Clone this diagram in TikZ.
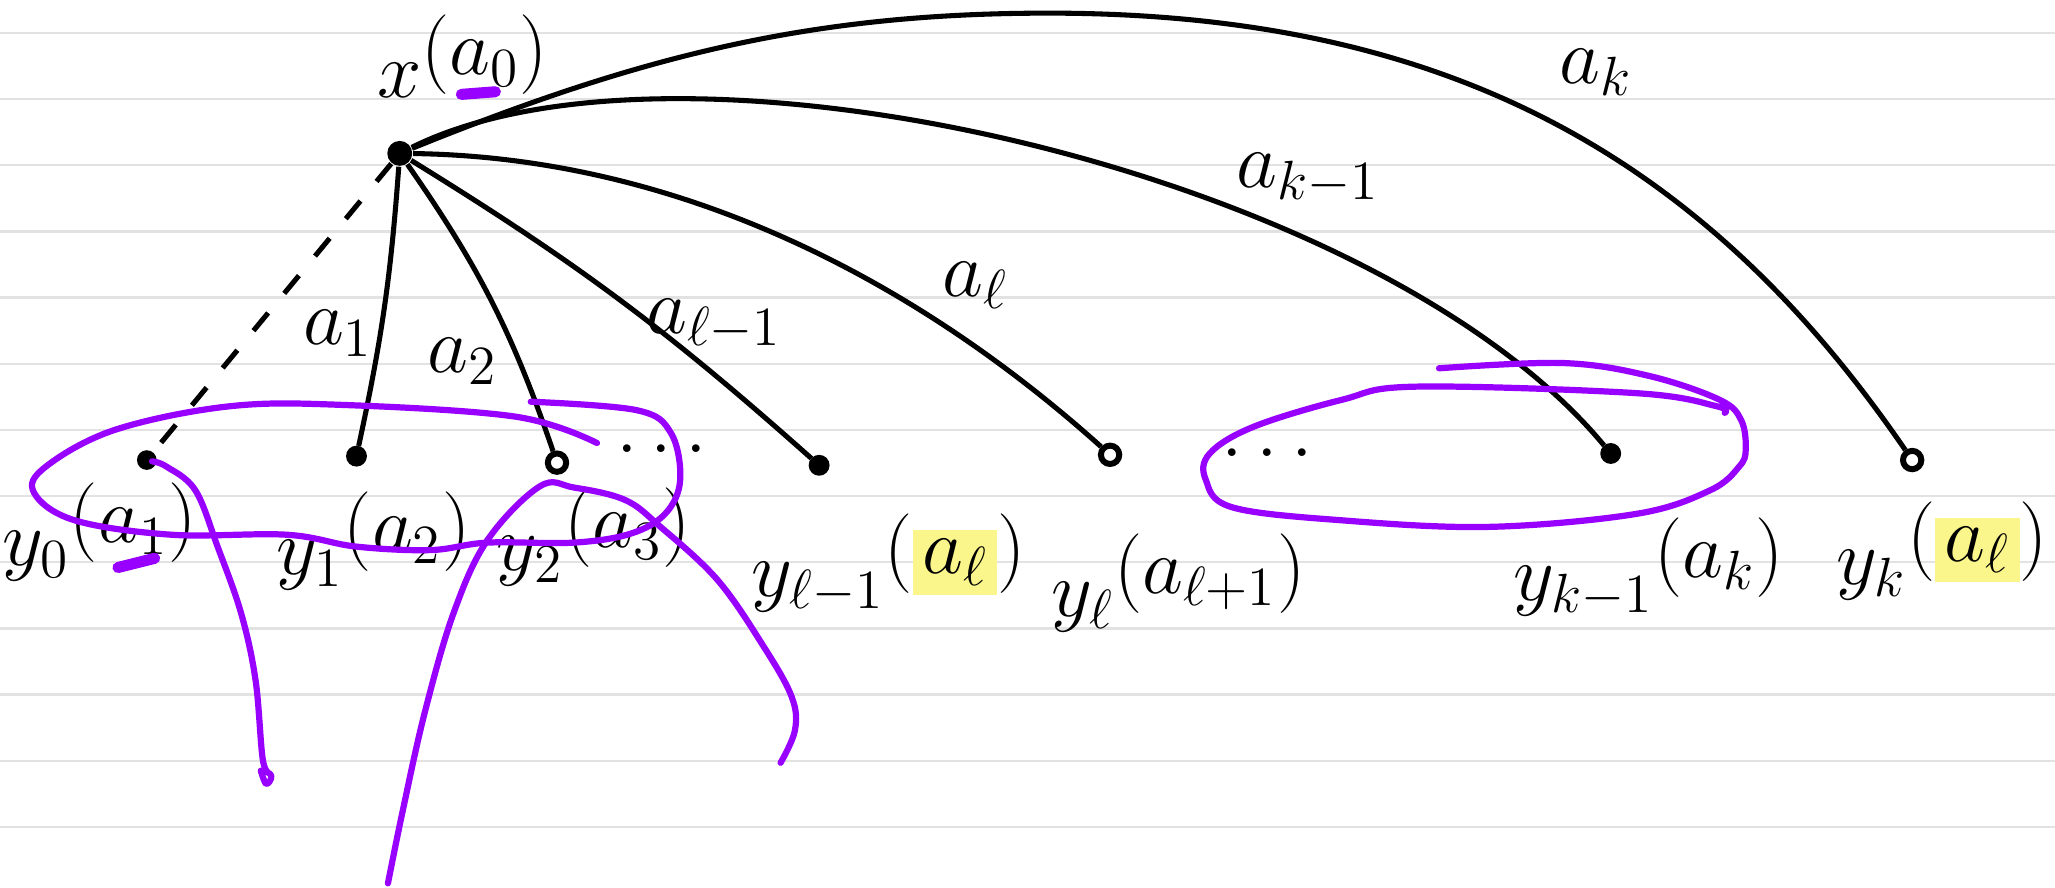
\documentclass[tikz,border=0pt]{standalone}
\usepackage{tikz}
\usetikzlibrary{positioning}
\definecolor{penpurple}{RGB}{152,0,255}
\definecolor{hilite}{RGB}{250,246,140}
\definecolor{ruling}{RGB}{226,226,226}
\newcommand{\hl}[1]{{\setlength{\fboxsep}{2pt}\colorbox{hilite}{$#1$}}}
\newcommand{\up}[1]{\raisebox{5pt}{$#1$}}

\begin{document}
\begin{tikzpicture}[
  hub/.style={circle, fill, inner sep=0pt, minimum size=1.9mm},
  dot/.style={circle, draw, fill, line width=1.1pt, inner sep=0pt, minimum size=1.2mm},
  ring/.style={circle, draw, line width=1.3pt, inner sep=0pt, minimum size=1.4mm},
  lbl/.style={font=\LARGE, inner sep=1pt},
  edge/.style={line width=1.1pt},
  pen/.style={draw=penpurple, line width=1.35pt, line cap=round, line join=round},
  rule/.style={draw=ruling, line width=0.5pt}
]
\useasboundingbox (0,0) rectangle (15.68,-6.77);
\fill[white] (0,0) rectangle (15.68,-6.77);
% ruled paper
\foreach \k in {0,...,12}
  \draw[rule] (0,{-0.252-0.5047*\k}) -- (15.68,{-0.252-0.5047*\k});

% vertices
\node[hub] (x) at (3.05,-1.17) {};
\node[hub, minimum size=1.5mm] (y0) at (1.12,-3.51) {};
\node[dot] (y1) at (2.72,-3.48) {};
\node[ring] (y2) at (4.25,-3.53) {};
\node[dot] (yl1) at (6.25,-3.55) {};
\node[ring] (yl) at (8.47,-3.47) {};
\node[dot] (yk1) at (12.29,-3.46) {};
\node[ring] (yk) at (14.59,-3.51) {};

% vertex labels
\node[lbl, xshift=0.48cm, yshift=0.74cm] (lx) at (x) {$x\up{(a_0)}$};
\node[lbl, xshift=-0.36cm, yshift=-0.55cm] (ly0) at (y0) {$y_0\up{(a_1)}$};
\node[lbl, xshift=0.13cm, yshift=-0.65cm] (ly1) at (y1) {$y_1\up{(a_2)}$};
\node[lbl, xshift=0.28cm, yshift=-0.57cm] (ly2) at (y2) {$y_2\up{(a_3)}$};
\node[lbl, xshift=0.53cm, yshift=-0.75cm] (lyl1) at (yl1) {$y_{\ell-1}\up{(\hl{a_\ell})}$};
\node[lbl, xshift=0.52cm, yshift=-0.98cm] (lyl) at (yl) {$y_\ell\up{(a_{\ell+1})}$};
\node[lbl, xshift=0.29cm, yshift=-0.87cm] (lyk1) at (yk1) {$y_{k-1}\up{(a_k)}$};
\node[lbl, xshift=0.23cm, yshift=-0.69cm] (lyk) at (yk) {$y_k\up{(\hl{a_\ell})}$};

% gaps
\node[lbl] (gap1) at (5.05,-3.42) {$\dots$};
\node[lbl] (gap2) at (9.67,-3.45) {$\dots$};

% edges
\draw[edge, dashed, dash pattern=on 5pt off 5.5pt] (x) -- (y0);
\draw[edge] (x) to[bend left=4] (y1);
\draw[edge] (x) to[bend left=8] (y2);
\draw[edge] (x) to[bend left=5] (yl1);
\draw[edge] (x) .. controls (5.2,-1.2) and (7.0,-2.15) .. (yl);
\draw[edge] (x) .. controls (5.2,-0.1) and (10.5,-1.3) .. (yk1);
\draw[edge] (x) .. controls (4.9,-0.42) and (6.2,-0.1) .. (8.0,-0.1)
  .. controls (11.0,-0.1) and (12.98,-1.16) .. (yk);

% edge labels
\node[lbl] (la1) at (2.58,-2.54) {$a_1$};
\node[lbl] (la2) at (3.53,-2.76) {$a_2$};
\node[lbl] (lal1) at (5.45,-2.48) {$a_{\ell-1}$};
\node[lbl] (lal) at (7.44,-2.18) {$a_\ell$};
\node[lbl] (lak1) at (9.98,-1.36) {$a_{k-1}$};
\node[lbl] (lak) at (12.18,-0.55) {$a_k$};

% purple pen
\draw[pen, line width=2.4pt] (3.52,-0.72) -- (3.78,-0.70);
\draw[pen, line width=2.4pt] (0.90,-4.33) -- (1.18,-4.26);
\draw[pen] plot[smooth, tension=0.6] coordinates {(4.555,-3.38) (3.94,-3.18) (2.63,-3.09)
  (1.75,-3.10) (0.876,-3.28) (0.35,-3.56) (0.26,-3.76) (0.57,-3.97) (1.31,-4.08)
  (2.19,-4.08) (2.715,-4.17) (3.285,-4.197) (3.72,-4.14) (4.38,-4.14) (4.817,-4.07)
  (5.08,-3.915) (5.19,-3.66) (5.12,-3.305) (4.86,-3.13) (4.05,-3.065)};
\draw[pen] plot[smooth, tension=0.6] coordinates {(1.16,-3.52) (1.27,-3.56) (1.49,-3.74)
  (1.66,-4.17) (1.84,-4.68) (1.95,-5.19) (2.006,-5.80) (2.07,-5.92) (2.03,-5.98) (1.99,-5.88)};
\draw[pen] plot[smooth, tension=0.6] coordinates {(2.96,-6.74) (3.07,-6.20) (3.24,-5.44)
  (3.46,-4.68) (3.72,-4.12) (4.12,-3.71) (4.38,-3.72) (4.77,-3.815) (5.04,-4.02)
  (5.475,-4.425) (5.825,-4.93) (6.04,-5.315) (6.066,-5.57) (5.956,-5.82)};
\draw[pen] plot[smooth, tension=0.6] coordinates {(10.98,-2.81) (11.93,-2.77) (12.59,-2.87)
  (13.12,-3.05) (13.285,-3.205) (13.32,-3.43) (13.27,-3.56) (13.05,-3.74) (12.49,-3.92)
  (11.36,-4.02) (10.24,-3.97) (9.40,-3.87) (9.20,-3.66) (9.23,-3.46) (9.565,-3.256)
  (10.24,-3.05) (10.80,-2.95) (12.49,-3.00) (13.10,-3.10) (13.16,-3.15)};
\end{tikzpicture}
\end{document}
